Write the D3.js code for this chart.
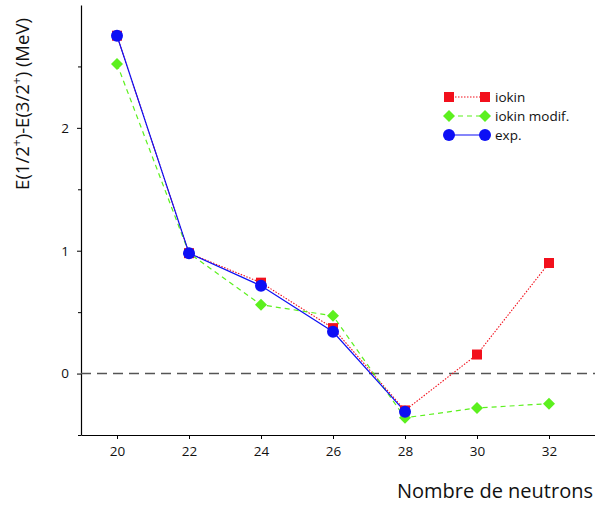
<!DOCTYPE html>
<html>
<head>
<meta charset="utf-8">
<script src="https://cdn.jsdelivr.net/npm/d3@7"></script>
<style>
  body { margin: 0; background: #fff; }
  text { font-family: "Open Sans", "Noto Sans", sans-serif; }
</style>
</head>
<body>
<svg id="chart" width="595" height="505"></svg>
<script>
// data
const neutrons     = [20, 22, 24, 26, 28, 30, 32];
const iokin        = [2.75, 0.98, 0.74, 0.37, -0.30, 0.155, 0.90];
const iokinModif   = [2.52, 0.98, 0.56, 0.47, -0.36, -0.28, -0.245];
const expNeutrons  = [20, 22, 24, 26, 28];
const expValues    = [2.75, 0.98, 0.715, 0.34, -0.31];
const yMajorTicks  = [0, 1, 2];
const yMinorTicks  = [-0.5, 0.5, 1.5, 2.5];

const svg = d3.select("#chart");
const margin = { top: 5, right: 0, bottom: 70, left: 81 };
const W = +svg.attr("width"), H = +svg.attr("height");
const innerW = W - margin.left - margin.right;
const innerH = H - margin.top - margin.bottom;

const x = d3.scaleLinear().domain([19, 19 + innerW / 36]).range([0, innerW]);
const y = d3.scaleLinear().domain([-0.5, 3.0]).range([innerH, 0]);

const g = svg.append("g").attr("transform", `translate(${margin.left},${margin.top})`);

// axes
const xAxis = d3.axisBottom(x).tickValues(neutrons).tickFormat(d3.format("d"))
  .tickSize(4).tickSizeOuter(0).tickPadding(7);
const gx = g.append("g").attr("transform", `translate(0,${innerH})`).call(xAxis);
const gy = g.append("g").call(d3.axisLeft(y).tickValues(yMajorTicks).tickFormat(d3.format("d"))
  .tickSize(4).tickSizeOuter(0).tickPadding(8));
g.append("g").call(d3.axisLeft(y).tickValues(yMinorTicks).tickSize(3).tickFormat("").tickSizeOuter(0))
  .select(".domain").remove();
[gx, gy].forEach(a => {
  a.selectAll("text").attr("font-size", 13.5).attr("fill", "#111")
    .style("font-family", '"Open Sans", "Noto Sans", sans-serif');
  a.select(".domain").attr("stroke", "#000").attr("stroke-width", 1.2);
});
g.selectAll(".tick line").attr("stroke", "#000");

// zero line
g.append("line")
  .attr("x1", 0).attr("x2", innerW)
  .attr("y1", y(0)).attr("y2", y(0))
  .attr("stroke", "#555").attr("stroke-width", 1.5)
  .attr("stroke-dasharray", "10,6");

const seriesRed   = neutrons.map((n, i) => ({ n, v: iokin[i] }));
const seriesGreen = neutrons.map((n, i) => ({ n, v: iokinModif[i] }));
const seriesBlue  = expNeutrons.map((n, i) => ({ n, v: expValues[i] }));

const line = d3.line().x(d => x(d.n)).y(d => y(d.v));

const RED = "#f2101c", GREEN = "#5cf01e", BLUE = "#0d0ff5";

g.append("path").datum(seriesRed).attr("d", line)
  .attr("fill", "none").attr("stroke", RED).attr("stroke-width", 1.1).attr("stroke-dasharray", "1.5,1.5");
g.append("path").datum(seriesGreen).attr("d", line)
  .attr("fill", "none").attr("stroke", GREEN).attr("stroke-width", 1.2).attr("stroke-dasharray", "5,4");
g.append("path").datum(seriesBlue).attr("d", line)
  .attr("fill", "none").attr("stroke", BLUE).attr("stroke-width", 1.2);

const sq = d3.symbol().type(d3.symbolSquare).size(100);
const dia = d3.symbol().type(d3.symbolSquare).size(72); // rotated 45deg below

g.selectAll("path.red").data(seriesRed).join("path").attr("class", "red")
  .attr("d", sq).attr("transform", d => `translate(${x(d.n)},${y(d.v)})`).attr("fill", RED);
g.selectAll("path.green").data(seriesGreen).join("path").attr("class", "green")
  .attr("d", dia).attr("transform", d => `translate(${x(d.n)},${y(d.v)}) rotate(45)`).attr("fill", GREEN);
g.selectAll("circle.blue").data(seriesBlue).join("circle").attr("class", "blue")
  .attr("cx", d => x(d.n)).attr("cy", d => y(d.v)).attr("r", 6).attr("fill", BLUE);

// legend
const legend = svg.append("g").attr("transform", "translate(449,97)");
const items = [
  { label: "iokin", color: RED, dash: "1.5,1.5", mark: "sq" },
  { label: "iokin modif.", color: GREEN, dash: "5,4", mark: "dia" },
  { label: "exp.", color: BLUE, dash: null, mark: "circ" }
];
items.forEach((it, i) => {
  const row = legend.append("g").attr("transform", `translate(0,${i * 19})`);
  row.append("line").attr("x1", 0).attr("x2", 36).attr("stroke", it.color)
    .attr("stroke-width", 1.2).attr("stroke-dasharray", it.dash);
  [0, 36].forEach(cx => {
    if (it.mark === "circ") row.append("circle").attr("cx", cx).attr("r", 6).attr("fill", it.color);
    else if (it.mark === "sq") row.append("path").attr("d", sq())
      .attr("transform", `translate(${cx},0)`).attr("fill", it.color);
    else row.append("path").attr("d", dia())
      .attr("transform", `translate(${cx},0) rotate(45)`).attr("fill", it.color);
  });
  row.append("text").attr("x", 46).attr("y", 5).attr("font-size", 13.5).attr("fill", "#111").text(it.label);
});

// axis titles
svg.append("text").attr("x", 593).attr("y", 498).attr("text-anchor", "end")
  .attr("font-size", 20).attr("fill", "#111").text("Nombre de neutrons");

const yl = svg.append("text").attr("transform", "translate(29,104) rotate(-90)")
  .attr("text-anchor", "middle").attr("font-size", 18.5).attr("fill", "#111");
yl.append("tspan").text("E(1/2");
yl.append("tspan").attr("baseline-shift", "super").attr("font-size", 12).text("+");
yl.append("tspan").text(")-E(3/2");
yl.append("tspan").attr("baseline-shift", "super").attr("font-size", 12).text("+");
yl.append("tspan").text(")  (MeV)");
</script>
</body>
</html>
